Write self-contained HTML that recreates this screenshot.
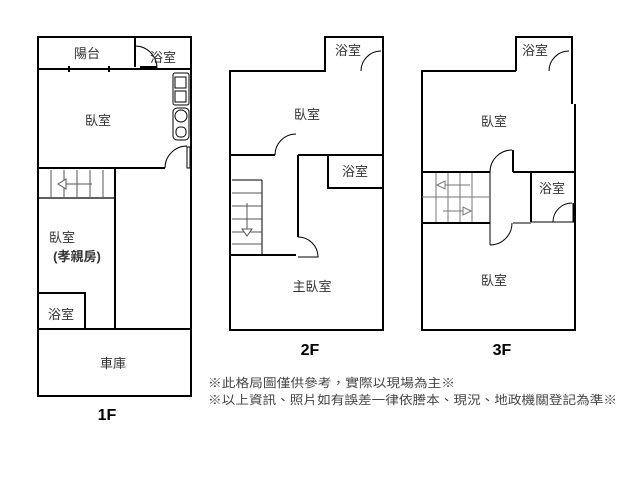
<!DOCTYPE html>
<html><head><meta charset="utf-8"><style>
html,body{margin:0;padding:0;background:#fff;}
svg{display:block;}
text{font-family:"Liberation Sans","Noto Sans CJK TC",sans-serif;fill:#333;}
</style></head><body>
<svg width="640" height="480" viewBox="0 0 640 480" xmlns="http://www.w3.org/2000/svg">
<g stroke="#000" stroke-width="2" fill="none">
<!-- 1F -->
<rect x="38" y="37" width="153" height="359"/>
<line x1="38" y1="69" x2="191" y2="69"/>
<line x1="135" y1="37" x2="135" y2="67"/>
<line x1="38" y1="168" x2="165" y2="168"/>
<line x1="115" y1="168" x2="115" y2="329"/>
<line x1="38" y1="198" x2="115" y2="198" stroke-width="1.2"/>
<rect x="38" y="293" width="47" height="36"/>
<line x1="38" y1="329" x2="191" y2="329"/>
</g>
<g stroke="#000" stroke-width="1" fill="none">
<path d="M135 46 A22 22 0 0 1 157 68"/>
<line x1="140" y1="67" x2="157" y2="67" stroke-width="2"/>
<path d="M165 168 A22 22 0 0 1 187 146"/>
<rect x="187" y="147" width="3" height="21" fill="#fff"/>
<line x1="69" y1="66" x2="69" y2="72" stroke-width="2"/>
<line x1="109" y1="66" x2="109" y2="72" stroke-width="2"/>
<rect x="173" y="73" width="16" height="32" rx="2"/>
<rect x="175" y="77" width="11" height="11"/><rect x="175" y="91" width="11" height="11"/>
<rect x="173" y="108" width="16" height="32" rx="4"/>
<circle cx="181" cy="116" r="6"/><rect x="176" y="127" width="10" height="10" rx="4"/>
<g stroke="#555">
<line x1="51" y1="170" x2="51" y2="197"/><line x1="64" y1="170" x2="64" y2="197"/><line x1="77" y1="170" x2="77" y2="197"/><line x1="90" y1="170" x2="90" y2="197"/><line x1="103" y1="170" x2="103" y2="197"/>
<line x1="61" y1="184" x2="92" y2="184"/><path d="M58 184 L66 179 L66 189 Z" fill="#fff"/>
</g>
</g>
<!-- 2F -->
<g stroke="#000" stroke-width="2" fill="none">
<path d="M325 71 L230 71 L230 330 L383 330 L383 37 L325 37 Z"/>
<line x1="230" y1="155" x2="275" y2="155"/>
<line x1="298" y1="155" x2="298" y2="237"/>
<line x1="298" y1="155" x2="384" y2="155"/>
<rect x="328" y="155" width="55" height="33"/>
<line x1="230" y1="255" x2="296" y2="255"/>
<line x1="232" y1="180" x2="262" y2="180" stroke-width="1"/>
<line x1="262" y1="180" x2="262" y2="255" stroke-width="1"/>
</g>
<g stroke="#000" stroke-width="1" fill="none">
<path d="M361 71 A20 20 0 0 1 381 51"/>
<path d="M275 155 A21 21 0 0 1 296 134"/>
<path d="M298 237 A20 20 0 0 1 318 257 L298 257"/>
<g stroke="#555"><line x1="232" y1="193" x2="262" y2="193"/><line x1="232" y1="206" x2="262" y2="206"/><line x1="232" y1="219" x2="262" y2="219"/><line x1="232" y1="232" x2="262" y2="232"/><line x1="232" y1="244" x2="262" y2="244"/>
<line x1="247" y1="203" x2="247" y2="229"/><path d="M242 229 L252 229 L247 236 Z" fill="#fff"/></g>
</g>
<!-- 3F -->
<g stroke="#000" stroke-width="2" fill="none">
<path d="M516 71 L422 71 L422 330 L575 330 L575 104"/>
<path d="M572 104 L572 37 L516 37 L516 71"/>
<line x1="422" y1="172" x2="490" y2="172"/>
<line x1="513" y1="150" x2="513" y2="172"/>
<line x1="513" y1="172" x2="575" y2="172"/>
<line x1="531" y1="172" x2="531" y2="222"/>
<line x1="531" y1="222" x2="575" y2="222" stroke-width="1"/>
<line x1="422" y1="223" x2="490" y2="223"/>
<line x1="490" y1="172" x2="490" y2="245" stroke-width="1"/>
<line x1="513" y1="223" x2="531" y2="223" stroke-width="1"/>
<line x1="574" y1="203" x2="574" y2="222" stroke-width="3"/>
</g>
<g stroke="#000" stroke-width="1" fill="none">
<path d="M549 71 A20 20 0 0 1 569 51"/>
<path d="M490 172 A22 22 0 0 1 512 150"/>
<path d="M553 222 A19 19 0 0 1 572 203"/>
<path d="M490 245 A22 22 0 0 0 512 223"/>
<g stroke="#777"><line x1="422" y1="197" x2="490" y2="197"/>
<line x1="436" y1="173" x2="436" y2="222"/><line x1="448" y1="173" x2="448" y2="222"/><line x1="460" y1="173" x2="460" y2="222"/><line x1="472" y1="173" x2="472" y2="222"/>
<line x1="440" y1="185" x2="470" y2="185"/><path d="M437 185 L445 181 L445 189 Z" fill="#fff"/>
<line x1="443" y1="211" x2="468" y2="211"/><path d="M471 211 L463 207 L463 215 Z" fill="#fff"/></g>
</g>
<g font-size="13" text-anchor="middle">
<text x="87" y="58">陽台</text><text x="163" y="62">浴室</text>
<text x="98" y="125">臥室</text>
<text x="62" y="242">臥室</text>
<text x="77" y="261" font-weight="bold">(孝親房)</text>
<text x="61" y="319">浴室</text>
<text x="113" y="368">車庫</text>
<text x="348" y="55">浴室</text><text x="307" y="119">臥室</text><text x="355" y="176">浴室</text>
<text x="312" y="291">主臥室</text>
<text x="535" y="55">浴室</text><text x="494" y="126">臥室</text><text x="552" y="193">浴室</text><text x="494" y="285">臥室</text>
</g>
<g font-size="16" font-weight="bold" text-anchor="middle">
<text x="107" y="420" style="fill:#000">1F</text><text x="310" y="355" style="fill:#000">2F</text><text x="502" y="355" style="fill:#000">3F</text>
</g>
<g font-size="12">
<text x="208" y="387" style="fill:#444" textLength="247" lengthAdjust="spacingAndGlyphs">※此格局圖僅供參考，實際以現場為主※</text>
<text x="208" y="404" style="fill:#444" textLength="409" lengthAdjust="spacingAndGlyphs">※以上資訊、照片如有誤差一律依謄本、現況、地政機關登記為準※</text>
</g>
</svg>
</body></html>
